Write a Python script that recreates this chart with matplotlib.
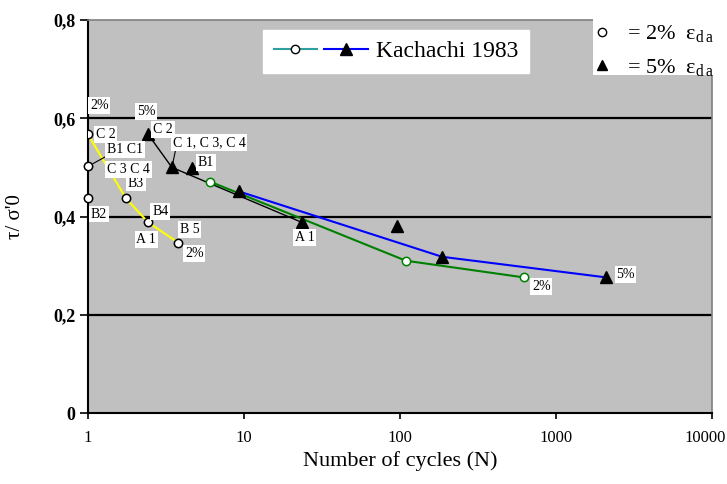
import matplotlib
matplotlib.use("Agg")
import matplotlib.pyplot as plt
from matplotlib.lines import Line2D
from matplotlib.patches import Rectangle
from matplotlib.legend_handler import HandlerTuple
from matplotlib.transforms import ScaledTranslation

plt.rcParams['font.family'] = ['Liberation Serif', 'DejaVu Serif']
plt.rcParams['mathtext.fontset'] = 'custom'
plt.rcParams['mathtext.rm'] = 'Liberation Serif'
plt.rcParams['mathtext.it'] = 'Liberation Serif:italic'

# early tests, 2 % double amplitude strain (open circles)
n_2a = [1, 1.75, 2.43, 3.78]
tau_2a = [0.567, 0.437, 0.388, 0.347]
n_2b = [1, 1]
tau_2b = [0.502, 0.437]

# early tests, 5 % double amplitude strain (triangles)
n_5a = [2.43, 3.45, 23.5]
tau_5a = [0.567, 0.500, 0.388]
n_5b = [4.64, 95.6]
tau_5b = [0.498, 0.380]

# Kachachi 1983
n_k2 = [6.05, 109, 623]
tau_k2 = [0.471, 0.310, 0.276]
n_k5 = [9.3, 186, 2100]
tau_k5 = [0.451, 0.318, 0.276]

yticks = [0, 0.2, 0.4, 0.6, 0.8]
ytick_labels = ['0', '0,2', '0,4', '0,6', '0,8']
xticks = [1, 10, 100, 1000, 10000]
xtick_labels = ['1', '10', '100', '1000', '10000']

fig = plt.figure(figsize=(7.27, 4.84), dpi=100)
ax = fig.add_axes([88 / 727, 1 - 413 / 484, 624 / 727, 393 / 484])
ax.set_facecolor('#C0C0C0')

ax.set_xscale('log')
ax.set_xlim(1, 10000)
ax.set_ylim(0, 0.8)
ax.set_yticks(yticks)
ax.set_yticklabels(ytick_labels, fontsize=13, fontweight='bold')
ax.set_xticks(xticks)
ax.set_xticklabels(xtick_labels, fontsize=12)
ax.minorticks_off()
ax.tick_params(axis='y', direction='out', length=6, width=1.2, pad=3)
ax.tick_params(axis='x', direction='out', length=4, width=1.2, pad=8)

# last x label pushed left so it stays on the canvas
last = ax.get_xticklabels()[-1]
last.set_ha('right')
last.set_transform(last.get_transform() +
                   ScaledTranslation(14 / 100, 0, fig.dpi_scale_trans))

for y in yticks[1:-1]:
    ax.axhline(y, color='black', lw=1.6, zorder=1)
for s in ['left', 'bottom']:
    ax.spines[s].set_color('black')
    ax.spines[s].set_linewidth(1.5)
for s in ['top', 'right']:
    ax.spines[s].set_color('#808080')
    ax.spines[s].set_linewidth(1.2)

circ = dict(marker='o', ms=6, mfc='white', mew=1.1)
tri = dict(marker='^', ms=8, mfc='black', mec='black', ls='none')

ax.plot(n_5a, tau_5a, color='black', lw=1, zorder=2)
ax.plot(n_k2, tau_k2, color='#008000', lw=1.5, mec='#008000', zorder=3, **circ)
ax.plot(n_k5, tau_k5, color='#0000FF', lw=1.5, zorder=3)
ax.plot(n_2a, tau_2a, color='#FFFF00', lw=1.5, mec='black', zorder=3, **circ)
ax.plot(n_2b, tau_2b, ls='none', mec='black', zorder=4, clip_on=False, **circ)
ax.plot(n_5a, tau_5a, zorder=4, **tri)
ax.plot(n_5b, tau_5b, zorder=4, **tri)
ax.plot(n_k5, tau_k5, zorder=4, **tri)

box = dict(boxstyle='square,pad=0.12', fc='white', ec='none')
LFS = 10


def tag(txt, x, y, dx, dy, ha='left'):
    ax.annotate(txt, (x, y), xytext=(dx, dy), textcoords='offset pixels',
                ha=ha, va='center', fontsize=LFS, bbox=box, zorder=6,
                annotation_clip=False)


# circle labels
tag('2%', n_2a[0], tau_2a[0], 2, 29)
tag('C 2', n_2a[0], tau_2a[0], 8, 0)
tag('B3', n_2a[1], tau_2a[1], 2, 15)
tag('B4', n_2a[2], tau_2a[2], 4, 11)
tag('A 1', n_2a[2], tau_2a[2], -2, -17, ha='center')
tag('B 5', n_2a[3], tau_2a[3], 2, 13)
tag('2%', n_2a[3], tau_2a[3], 7, -11)
tag('B2', n_2b[1], tau_2b[1], 3, -16)
tag('C 3 C 4', n_2b[0], tau_2b[0], 19, -3)
ax.annotate('B1 C1', (n_2b[0], tau_2b[0]), xytext=(19, 17),
            textcoords='offset pixels', ha='left', va='center', fontsize=LFS,
            bbox=box, zorder=6,
            arrowprops=dict(arrowstyle='-', color='black', lw=0.8,
                            shrinkA=0, shrinkB=4, relpos=(0, 0)))

# triangle labels
tag('5%', n_5a[0], tau_5a[0], -2, 23, ha='center')
tag('C 2', n_5a[0], tau_5a[0], 5, 5)
ax.annotate('C 1, C 3, C 4', (n_5a[1], tau_5a[1]), xytext=(1, 25),
            textcoords='offset pixels', ha='left', va='center', fontsize=LFS,
            bbox=box, zorder=6,
            arrowprops=dict(arrowstyle='-', color='black', lw=0.8,
                            shrinkA=0, shrinkB=3, relpos=(0.04, 0)))
tag('B1', n_5b[0], tau_5b[0], 6, 6)
tag('A 1', n_5a[2], tau_5a[2], 3, -15, ha='center')
tag('2%', n_k2[-1], tau_k2[-1], 8, -9)
tag('5%', n_k5[-1], tau_k5[-1], 10, 3)

ax.set_xlabel('Number of cycles (N)', fontsize=16, labelpad=4)
ax.set_ylabel("τ/ σ'0", fontsize=15, labelpad=20)

# series legend
h_green = Line2D([], [], color='#2FA0A0', lw=1.5, marker='o', ms=6,
                 mfc='white', mec='black')
h_blue = Line2D([], [], color='#0000FF', lw=1.5, marker='^', ms=8,
                mfc='black', mec='black')
leg = ax.legend([(h_green, h_blue)], ['Kachachi 1983'],
                handler_map={tuple: HandlerTuple(ndivide=None, pad=0.3)},
                loc='upper left', bbox_to_anchor=(263 / 727, 1 - 30 / 484),
                bbox_transform=fig.transFigure, borderaxespad=0,
                handlelength=4.0, handletextpad=0.35, borderpad=0.45,
                fontsize=17, fancybox=False, framealpha=1,
                facecolor='white', edgecolor='white')
leg.set_zorder(10)

# symbol key on a white patch over the plot corner
fig.patches.append(Rectangle((593 / 727, 1 - 75 / 484), 134 / 727, 75 / 484,
                             transform=fig.transFigure, fc='white',
                             ec='none', zorder=5))
k1 = Line2D([], [], ls='none', marker='o', ms=6, mfc='white', mec='black')
k2 = Line2D([], [], ls='none', marker='^', ms=7, mfc='black', mec='black')
fig.legend([k1, k2],
           [r'= 2%  ε$_{\mathrm{d\,a}}$', r'= 5%  ε$_{\mathrm{d\,a}}$'],
           loc='upper left', bbox_to_anchor=(593 / 727, 1 - 20 / 484),
           borderaxespad=0, handlelength=0.5, handletextpad=0.9,
           borderpad=0.15, labelspacing=0.55, fontsize=16, frameon=False)

fig.savefig('out.png', dpi=100)
